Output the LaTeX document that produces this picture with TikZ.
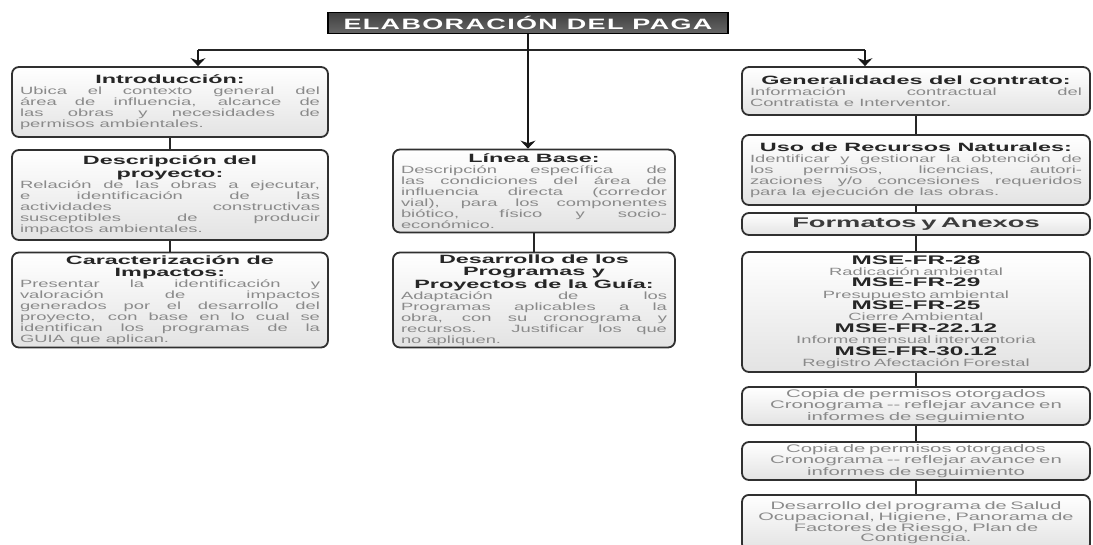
\documentclass[tikz,border=0pt]{standalone}
\usepackage{fontspec}
\usepackage{xcolor}
\usepackage{tikz}
\usetikzlibrary{shapes,arrows,arrows.meta,calc,positioning}

\newfontfamily\widesans[FakeStretch=1.75]{Liberation Sans}
\newfontfamily\headwide[FakeStretch=1.95]{Liberation Sans}
\newfontfamily\copywide[FakeStretch=1.85]{Liberation Sans}
\newfontfamily\headsans[FakeStretch=1.8,LetterSpace=9]{Liberation Sans}
\setlength{\parindent}{0pt}

\definecolor{boxline}{HTML}{303030}
\definecolor{headtext}{HTML}{262626}
\definecolor{bodytext}{HTML}{8A8A8A}
\definecolor{headfill}{HTML}{666666}

\newcommand{\boxhead}[1]{{\centering\headwide\bfseries\fontsize{12}{12.5}\selectfont\color{headtext}#1\par}}
\newcommand{\boxbody}[1]{{\widesans\fontsize{10.5}{11}\selectfont\color{bodytext}#1\par}}
\newcommand{\formcode}[2]{{\headwide\bfseries\fontsize{12.5}{11.5}\selectfont\color{headtext}#1\par}{\widesans\fontsize{10.5}{11.2}\selectfont\color{bodytext}#2\par}}

\begin{document}
\begin{tikzpicture}[x=1pt, y=-1pt,
  mainhead/.style={rectangle, draw=black, line width=1.6pt, top color=gray!50!black, bottom color=headfill, minimum width=400pt, minimum height=21pt, inner sep=1pt, text=white!90, font=\headsans\bfseries\fontsize{15}{15}\selectfont},
  stepbox/.style={rectangle, draw=boxline, line width=1.8pt, rounded corners=7pt, top color=white, bottom color=gray!22, inner xsep=8pt, inner ysep=2pt, align=justify},
  leftbox/.style={stepbox, text width=300pt},
  midbox/.style={stepbox, text width=266pt},
  rightbox/.style={stepbox, text width=332pt, align=center},
  copybox/.style={rightbox, font=\copywide\fontsize{11}{11.5}\selectfont, text=bodytext},
  link/.style={line width=2.6pt, black!85},
  arrow/.style={->, >={Stealth[length=8pt,width=15pt]}, line width=1.8pt, black!90}
]
\useasboundingbox (0,0) rectangle (1093,544);

% Title
\node[mainhead] (paga) at (528,23) {ELABORACIÓN DEL PAGA};

% Left column
\node[leftbox, minimum height=70pt] (intro) at (170,102) {\boxhead{Introducción:}\boxbody{Ubica el contexto general del\linebreak área de influencia, alcance de\linebreak las obras y necesidades de\linebreak permisos ambientales.}};
\node[leftbox, minimum height=90pt] (proyecto) at (170,195) {\boxhead{Descripción del\\proyecto:}\boxbody{Relación de las obras a ejecutar,\linebreak e identificación de las\linebreak actividades constructivas\linebreak susceptibles de producir\linebreak impactos ambientales.}};
\node[leftbox, minimum height=95pt] (impactos) at (170,300) {\boxhead{Caracterización de\\Impactos:}\boxbody{Presentar la identificación y\linebreak valoración de impactos\linebreak generados por el desarrollo del\linebreak proyecto, con base en lo cual se\linebreak identifican los programas de la\linebreak GUIA que aplican.}};

% Middle column
\node[midbox, minimum height=83pt] (lineabase) at (534,191) {\boxhead{Línea Base:}\boxbody{Descripción específica de\linebreak las condiciones del área de\linebreak influencia directa (corredor\linebreak vial), para los componentes\linebreak biótico, físico y socio-\linebreak económico.}};
\node[midbox, minimum height=95pt] (programas) at (534,300) {\boxhead{Desarrollo de los\\Programas y\\Proyectos de la Guía:}\boxbody{Adaptación de los\linebreak Programas aplicables a la\linebreak obra, con su cronograma y\linebreak recursos. Justificar los que\linebreak no apliquen.}};

% Right column
\node[stepbox, text width=332pt, minimum height=48pt] (contrato) at (916,91) {\boxhead{Generalidades del contrato:}\boxbody{Información contractual del\linebreak Contratista e Interventor.}};
\node[stepbox, text width=332pt, minimum height=70pt] (recursos) at (916,170) {\boxhead{Uso de Recursos Naturales:}\boxbody{Identificar y gestionar la obtención de\linebreak los permisos, licencias, autori-\linebreak zaciones y/o concesiones requeridos\linebreak para la ejecución de las obras.}};
\node[rightbox, minimum height=22pt, font=\headwide\bfseries\fontsize{14}{14}\selectfont, text=headtext!90] (formatos) at (916,224) {Formatos y Anexos};
\node[rightbox, minimum height=120pt] (codigos) at (916,312) {\formcode{MSE-FR-28}{Radicación ambiental}\formcode{MSE-FR-29}{Presupuesto ambiental}\formcode{MSE-FR-25}{Cierre Ambiental}\formcode{MSE-FR-22.12}{Informe mensual interventoria}\formcode{MSE-FR-30.12}{Registro Afectación Forestal}};
\node[copybox, minimum height=38pt] (copia1) at (916,406) {Copia de permisos otorgados\\Cronograma -- reflejar avance en\\informes de seguimiento};
\node[copybox, minimum height=38pt] (copia2) at (916,461) {Copia de permisos otorgados\\Cronograma -- reflejar avance en\\informes de seguimiento};
\node[copybox, anchor=north, minimum height=56pt, inner ysep=3pt, font=\copywide\fontsize{10.8}{10.8}\selectfont] (salud) at (916,494) {Desarrollo del programa de Salud\\Ocupacional, Higiene, Panorama de\\Factores de Riesgo, Plan de\\Contigencia.};

% Connections from the title
\coordinate (lefthook) at (198,50);
\coordinate (righthook) at (865,50);
\draw[line width=1.8pt, black!85] (lefthook) -- (righthook);
\draw[arrow] (lefthook) -- (lefthook |- intro.north);
\draw[arrow] (righthook) -- (righthook |- contrato.north);
\draw[arrow, line width=2.6pt] (paga.south) -- (paga.south |- lineabase.north);

% Connections in the columns
\draw[link] (intro) -- (proyecto);
\draw[link] (proyecto) -- (impactos);
\draw[link] (lineabase) -- (programas);
\draw[link] (contrato) -- (recursos);
\draw[link] (recursos) -- (formatos);
\draw[link] (formatos) -- (codigos);
\draw[link] (codigos) -- (copia1);
\draw[link] (copia1) -- (copia2);
\draw[link] (copia2) -- (salud);

\end{tikzpicture}
\end{document}
